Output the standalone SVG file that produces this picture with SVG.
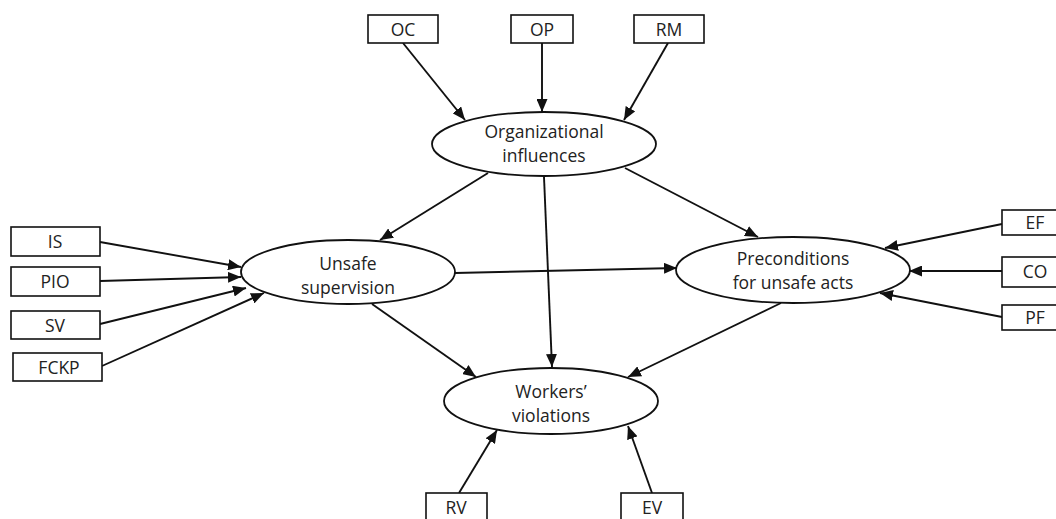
<svg xmlns="http://www.w3.org/2000/svg" width="1056" height="519" viewBox="0 0 1056 519">
  <style>
    .box { fill: #ffffff; stroke: #111111; stroke-width: 1.6; }
    .ell { fill: #ffffff; stroke: #111111; stroke-width: 1.8; }
    .lbl { font-family: "Open Sans", "Noto Sans", "Liberation Sans", sans-serif; font-size: 17.5px; fill: #222222; text-anchor: middle; }
    .edge { fill: none; stroke: #111111; stroke-width: 1.9; marker-end: url(#arrow); }
  </style>
  <defs>
    <marker id="arrow" markerUnits="userSpaceOnUse" markerWidth="13" markerHeight="11" refX="13" refY="5.5" orient="auto">
      <path d="M0,0 L13,5.5 L0,11 z" fill="#111111"/>
    </marker>
  </defs>
  <rect width="1056" height="519" fill="#ffffff"/>

  <!-- connectors -->
  <g id="connectors">
    <line class="edge" x1="403" y1="43" x2="465" y2="120"/>
    <line class="edge" x1="542" y1="43" x2="542" y2="112"/>
    <line class="edge" x1="668" y1="43" x2="624" y2="120"/>

    <line class="edge" x1="488" y1="173" x2="380" y2="240"/>
    <line class="edge" x1="625" y1="168" x2="758" y2="237"/>
    <line class="edge" x1="544" y1="177" x2="552" y2="367"/>

    <line class="edge" x1="455" y1="273" x2="677" y2="268"/>
    <line class="edge" x1="372" y1="304" x2="476" y2="377"/>
    <line class="edge" x1="781" y1="303" x2="628" y2="377"/>

    <line class="edge" x1="100" y1="242" x2="241" y2="267"/>
    <line class="edge" x1="100" y1="281" x2="241" y2="277"/>
    <line class="edge" x1="100" y1="324" x2="246" y2="288"/>
    <line class="edge" x1="102" y1="366" x2="264" y2="293"/>

    <line class="edge" x1="1002" y1="224" x2="885" y2="248"/>
    <line class="edge" x1="1002" y1="271" x2="909" y2="271"/>
    <line class="edge" x1="1002" y1="317" x2="880" y2="293"/>

    <line class="edge" x1="459" y1="493" x2="497" y2="430"/>
    <line class="edge" x1="652" y1="493" x2="628" y2="426"/>
  </g>

  <!-- latent constructs -->
  <g id="organizational-influences">
    <ellipse class="ell" cx="544" cy="144" rx="112" ry="32"/>
    <text class="lbl" x="544" y="138">Organizational</text>
    <text class="lbl" x="544" y="162">influences</text>
  </g>
  <g id="unsafe-supervision">
    <ellipse class="ell" cx="348" cy="272" rx="107" ry="32"/>
    <text class="lbl" x="348" y="270">Unsafe</text>
    <text class="lbl" x="348" y="294">supervision</text>
  </g>
  <g id="preconditions">
    <ellipse class="ell" cx="793" cy="270" rx="117" ry="33"/>
    <text class="lbl" x="793" y="265">Preconditions</text>
    <text class="lbl" x="793" y="289">for unsafe acts</text>
  </g>
  <g id="workers-violations">
    <ellipse class="ell" cx="551" cy="401" rx="107" ry="33"/>
    <text class="lbl" x="551" y="398">Workers’</text>
    <text class="lbl" x="551" y="422">violations</text>
  </g>

  <!-- indicators -->
  <g id="oc"><rect class="box" x="368" y="15" width="70" height="28"/><text class="lbl" x="403" y="36">OC</text></g>
  <g id="op"><rect class="box" x="511" y="15" width="62" height="28"/><text class="lbl" x="542" y="36">OP</text></g>
  <g id="rm"><rect class="box" x="634" y="15" width="70" height="28"/><text class="lbl" x="669" y="36">RM</text></g>

  <g id="is"><rect class="box" x="11" y="227" width="89" height="29"/><text class="lbl" x="55" y="248">IS</text></g>
  <g id="pio"><rect class="box" x="11" y="267" width="89" height="29"/><text class="lbl" x="55" y="288">PIO</text></g>
  <g id="sv"><rect class="box" x="11" y="311" width="89" height="28"/><text class="lbl" x="55" y="332">SV</text></g>
  <g id="fckp"><rect class="box" x="13" y="353" width="89" height="28"/><text class="lbl" x="59" y="374">FCKP</text></g>

  <g id="ef"><rect class="box" x="1002" y="210" width="66" height="25"/><text class="lbl" x="1035" y="229">EF</text></g>
  <g id="co"><rect class="box" x="1002" y="257" width="66" height="30"/><text class="lbl" x="1035" y="278">CO</text></g>
  <g id="pf"><rect class="box" x="1002" y="305" width="66" height="25"/><text class="lbl" x="1035" y="324">PF</text></g>

  <g id="rv"><rect class="box" x="426" y="493" width="61" height="30"/><text class="lbl" x="456" y="514">RV</text></g>
  <g id="ev"><rect class="box" x="621" y="493" width="62" height="30"/><text class="lbl" x="652" y="514">EV</text></g>
</svg>
